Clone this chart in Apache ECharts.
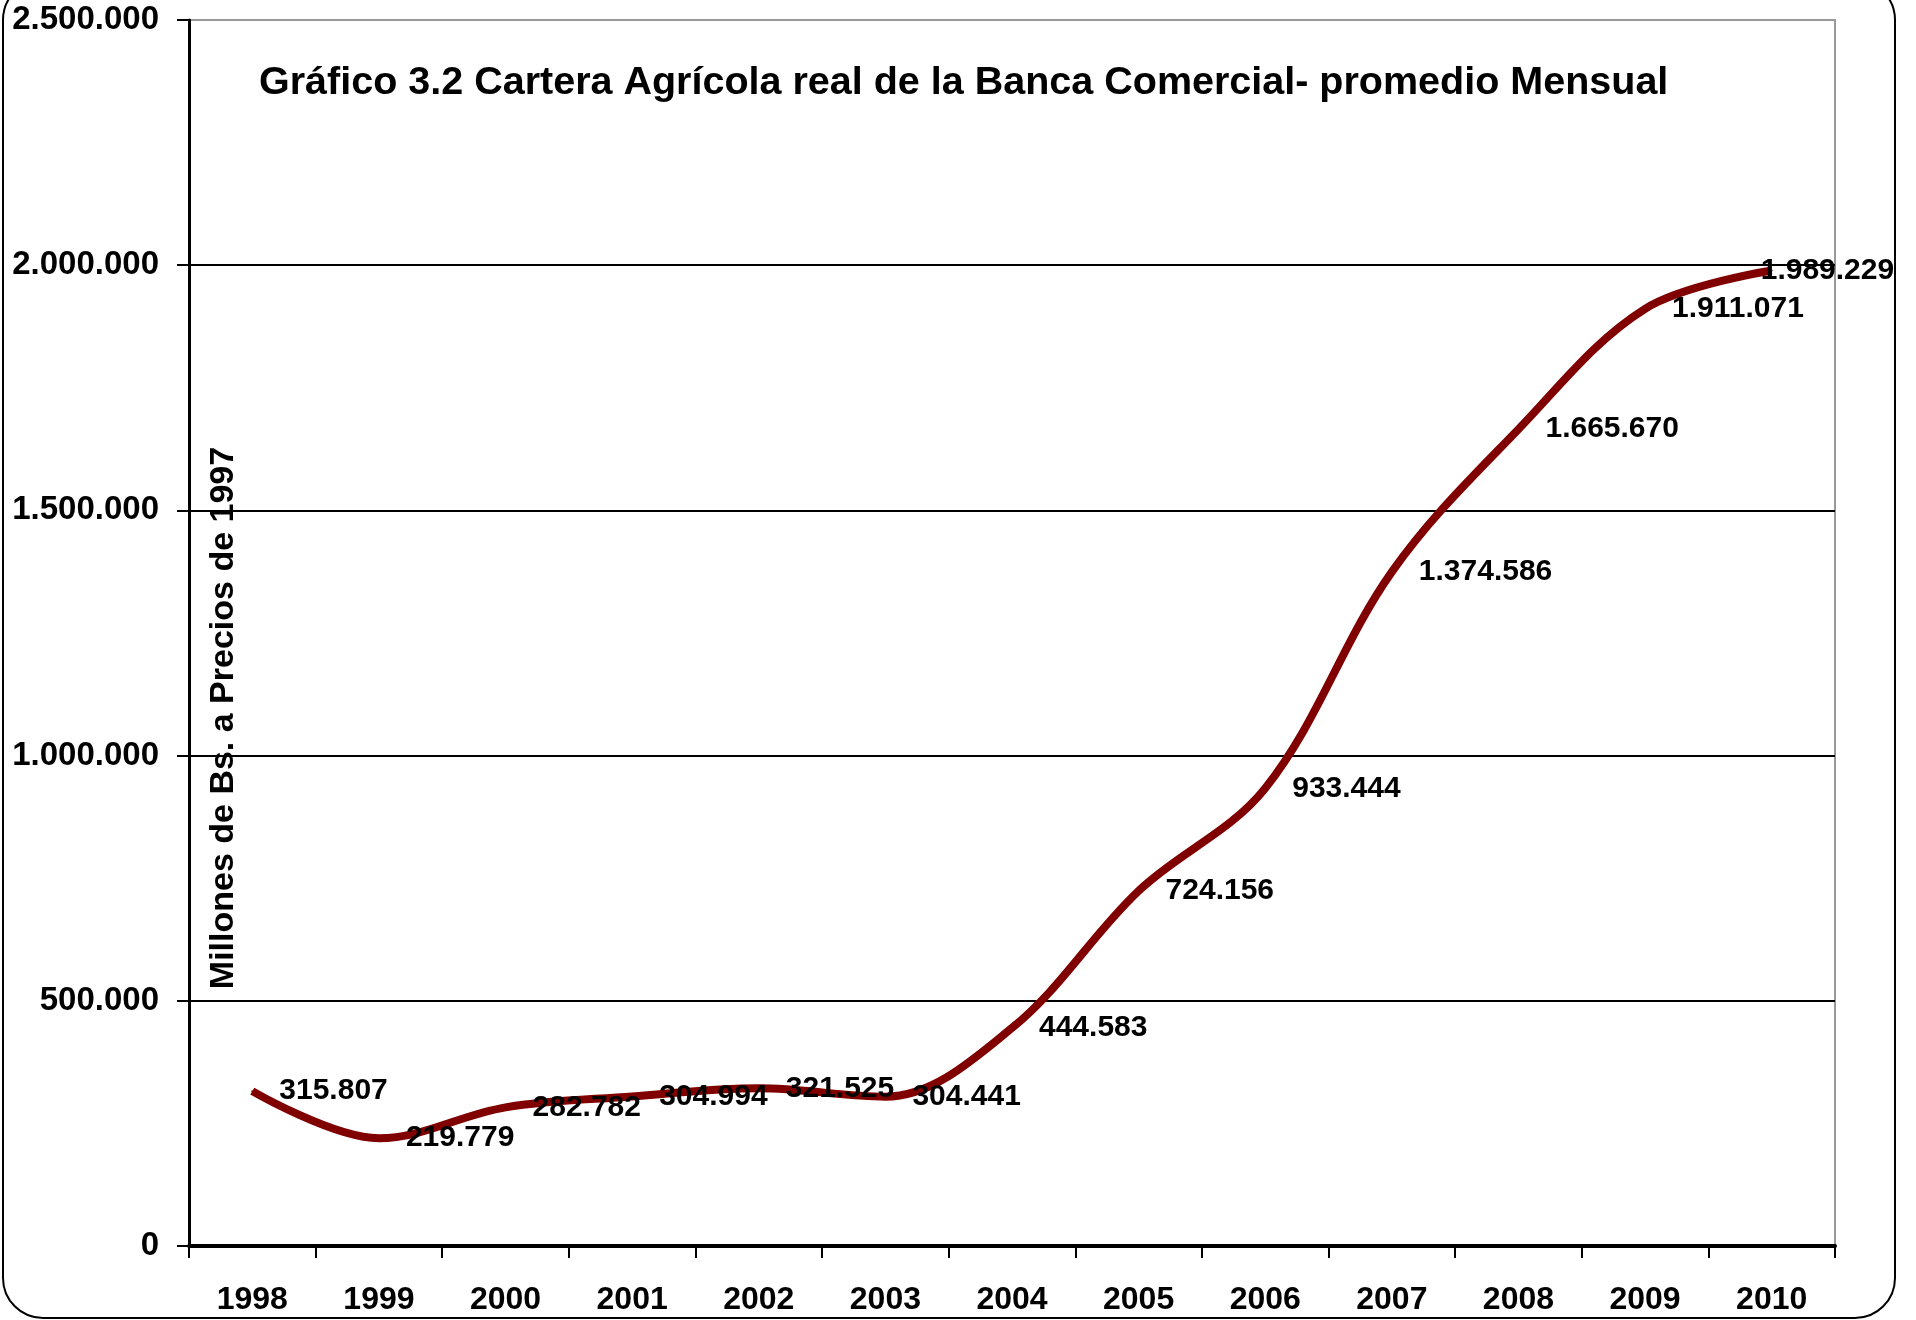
<!DOCTYPE html>
<html>
<head>
<meta charset="utf-8">
<script src="https://cdn.jsdelivr.net/npm/echarts@6/dist/echarts.min.js"></script>
<style>
  html, body { margin: 0; padding: 0; background: #fff; }
  #chart { width: 1916px; height: 1320px; }
</style>
</head>
<body>
<div id="chart"></div>
<script>
var years = ['1998','1999','2000','2001','2002','2003','2004','2005','2006','2007','2008','2009','2010'];
var cartera = [315807, 219779, 282782, 304994, 321525, 304441, 444583, 724156, 933444, 1374586, 1665670, 1911071, 1989229];
var yTicks = [0, 500000, 1000000, 1500000, 2000000, 2500000];

var fuente = "'Liberation Sans', Arial, sans-serif";

// formato con punto de miles, como en el original
function miles(v) {
    return String(Math.round(v)).replace(/\B(?=(\d{3})+(?!\d))/g, '.');
}

var puntos = cartera.map(function (v, i) {
    var p = { value: v };
    if (i == cartera.length - 1) {
        p.label = { distance: -12 };
    }
    return p;
});

var chart = echarts.init(document.getElementById('chart'));
chart.setOption({
    animation: false,
    backgroundColor: '#fff',
    title: {
        text: 'Gráfico 3.2 Cartera Agrícola real de la Banca Comercial- promedio Mensual',
        left: 254,
        top: 58,
        textStyle: { fontFamily: fuente, fontWeight: 'bold', fontSize: 39.5, color: '#000' }
    },
    grid: {
        left: 189, right: 81, top: 20, bottom: 74,
        containLabel: false, outerBoundsMode: 'none',
        show: true, borderColor: '#999', borderWidth: 2, backgroundColor: 'transparent'
    },
    xAxis: {
        type: 'category',
        data: years,
        boundaryGap: true,
        axisLine: { lineStyle: { color: '#000', width: 4 } },
        axisTick: { show: true, length: 12, lineStyle: { color: '#000', width: 2 } },
        axisLabel: { margin: 38, color: '#000', fontFamily: fuente, fontWeight: 'bold', fontSize: 32 },
        splitLine: { show: false }
    },
    yAxis: {
        type: 'value',
        min: yTicks[0],
        max: yTicks[yTicks.length - 1],
        interval: 500000,
        axisLine: { show: true, lineStyle: { color: '#000', width: 3 } },
        axisTick: { show: true, length: 12, lineStyle: { color: '#000', width: 2 } },
        axisLabel: { margin: 30, color: '#000', fontFamily: fuente, fontWeight: 'bold', fontSize: 33, formatter: miles },
        splitLine: { show: true, lineStyle: { color: ['#000', '#000', '#000', '#000', '#000', '#999'], width: 2 } }
    },
    series: [{
        type: 'line',
        data: puntos,
        smooth: 0.35,
        symbol: 'circle',
        symbolSize: 2,
        showSymbol: true,
        itemStyle: { color: '#800000' },
        lineStyle: { color: '#800000', width: 8 },
        label: {
            show: true,
            position: 'right',
            distance: 26,
            offset: [0, 4],
            color: '#000',
            fontFamily: fuente,
            fontWeight: 'bold',
            fontSize: 30,
            formatter: function (p) { return miles(p.value); }
        },
        labelLayout: { hideOverlap: false }
    }],
    graphic: [
        {
            type: 'text',
            x: 224, y: 718,
            rotation: Math.PI / 2,
            style: {
                text: 'Millones de Bs. a Precios de 1997',
                fontFamily: fuente,
                fontWeight: 'bold',
                fontSize: 34,
                fill: '#000',
                align: 'center',
                verticalAlign: 'middle'
            }
        },
        {
            type: 'rect',
            silent: true,
            shape: { x: 3, y: -20, width: 1892, height: 1338, r: 40 },
            style: { fill: 'none', stroke: '#000', lineWidth: 2 }
        }
    ]
});
</script>
</body>
</html>
